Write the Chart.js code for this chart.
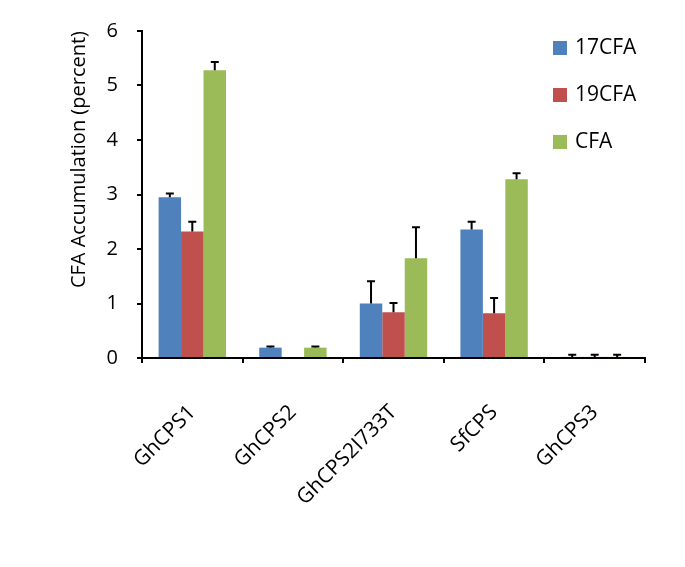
<!DOCTYPE html>
<html>
<head>
<meta charset="utf-8">
<script src="https://cdn.jsdelivr.net/npm/chart.js@4/dist/chart.umd.min.js"></script>
<style>
  html, body { margin: 0; padding: 0; background: #fff; }
  #wrap { width: 685px; height: 567px; }
</style>
</head>
<body>
<div id="wrap"><canvas id="c" width="685" height="567"></canvas></div>
<script>
const categories = ['GhCPS1', 'GhCPS2', 'GhCPS2I733T', 'SfCPS', 'GhCPS3'];
const seriesNames = ['17CFA', '19CFA', 'CFA'];
const values17 = [2.95, 0.19, 1.00, 2.36, 0.02];
const errors17 = [0.07, 0.02, 0.41, 0.14, 0.04];
const values19 = [2.32, 0.00, 0.84, 0.82, 0.02];
const errors19 = [0.18, 0.00, 0.17, 0.28, 0.04];
const valuesCFA = [5.28, 0.19, 1.83, 3.28, 0.02];
const errorsCFA = [0.15, 0.02, 0.57, 0.11, 0.04];
const yTicks = [0, 1, 2, 3, 4, 5, 6];
const yTitle = 'CFA Accumulation (percent)';

const colors = ['#4F81BD', '#C0504D', '#9BBB59'];
const FONT = "'Open Sans', sans-serif";

const errorBarPlugin = {
  id: 'errorBars',
  afterDatasetsDraw(chart) {
    const ctx = chart.ctx;
    const yScale = chart.scales.y;
    ctx.save();
    ctx.strokeStyle = '#000';
    ctx.lineWidth = 2;
    chart.data.datasets.forEach((ds, i) => {
      const meta = chart.getDatasetMeta(i);
      meta.data.forEach((bar, j) => {
        const err = ds.errors[j];
        if (!err) return;
        const top = yScale.getPixelForValue(ds.data[j] + err);
        ctx.beginPath();
        ctx.moveTo(bar.x, bar.y);
        ctx.lineTo(bar.x, top);
        ctx.moveTo(bar.x - 4, top);
        ctx.lineTo(bar.x + 4, top);
        ctx.stroke();
      });
    });
    ctx.restore();
  }
};

const legendPlugin = {
  id: 'sideLegend',
  afterDraw(chart) {
    const ctx = chart.ctx;
    ctx.save();
    ctx.font = '21px ' + FONT;
    ctx.textBaseline = 'middle';
    ctx.textAlign = 'left';
    chart.data.datasets.forEach((ds, i) => {
      const cy = 48 + i * 47;
      ctx.fillStyle = ds.backgroundColor;
      ctx.fillRect(553, cy - 7, 14, 14);
      ctx.fillStyle = '#000';
      ctx.fillText(ds.label, 575, cy);
    });
    ctx.restore();
  }
};

const valueSets = [values17, values19, valuesCFA];
const errorSets = [errors17, errors19, errorsCFA];

new Chart(document.getElementById('c'), {
  type: 'bar',
  data: {
    labels: categories,
    datasets: seriesNames.map((name, i) => ({
      label: name,
      data: valueSets[i],
      errors: errorSets[i],
      backgroundColor: colors[i],
      borderWidth: 0,
      categoryPercentage: 0.67,
      barPercentage: 1.0
    }))
  },
  options: {
    responsive: false,
    animation: false,
    layout: { padding: { left: 0, top: 30, right: 40, bottom: 0 } },
    plugins: {
      legend: { display: false },
      tooltip: { enabled: false }
    },
    scales: {
      x: {
        grid: { display: true, drawOnChartArea: false, drawTicks: true, tickLength: 5, color: '#000', lineWidth: 2, offset: true },
        border: { display: true, color: '#000', width: 2 },
        ticks: { color: '#000', font: { family: FONT, size: 21 }, minRotation: 45, maxRotation: 45, autoSkip: false, padding: 37 },
        afterFit(scale) { scale.height = 209; }
      },
      y: {
        min: 0, max: 6,
        afterBuildTicks(scale) { scale.ticks = yTicks.map(v => ({ value: v })); },
        grid: { display: true, drawOnChartArea: false, drawTicks: true, tickLength: 5, color: '#000', lineWidth: 2 },
        border: { display: true, color: '#000', width: 2 },
        ticks: { color: '#000', font: { family: FONT, size: 20 }, padding: 19 },
        title: { display: true, text: yTitle, color: '#000', align: 'end', font: { family: FONT, size: 20 }, padding: { top: 67, bottom: 0 } },
        afterFit(scale) { scale.width = 142; }
      }
    }
  },
  plugins: [errorBarPlugin, legendPlugin]
});
</script>
</body>
</html>
